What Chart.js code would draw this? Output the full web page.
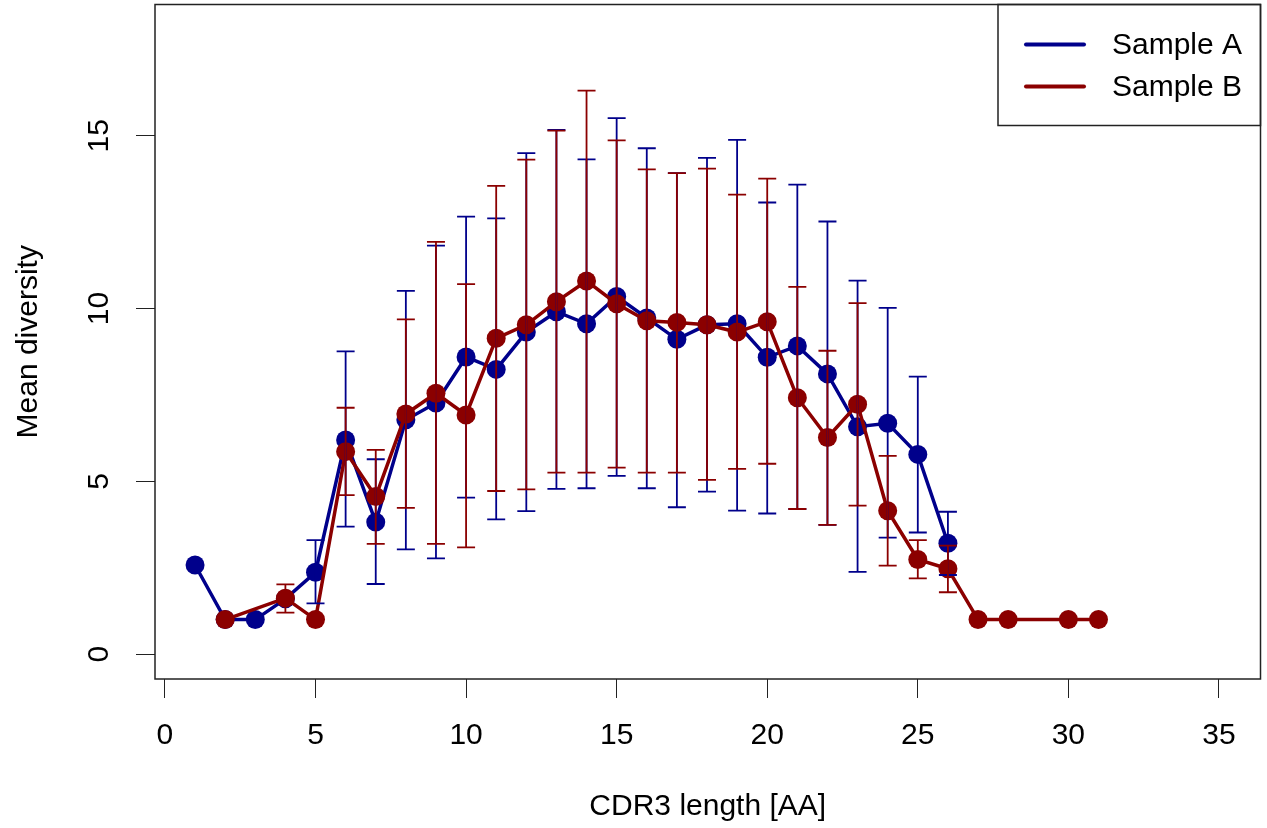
<!DOCTYPE html>
<html>
<head>
<meta charset="utf-8">
<script src="https://cdn.jsdelivr.net/npm/chart.js@4.4.1/dist/chart.umd.min.js"></script>
<style>
  html, body { margin: 0; padding: 0; background: #fff; }
  #page { width: 1267px; height: 828px; position: relative; overflow: hidden; }
  /* Chart.js reserves room for the point radius at the top/right edge;
     shift the canvas so the plot box sits where R put it */
  #wrap { width: 1270px; height: 833px; position: absolute; left: 0; top: -5px; }
</style>
</head>
<body>
<div id="page"><div id="wrap"><canvas id="diversityChart"></canvas></div></div>
<script>
// CDR3 length (AA) per sample
const lengthsA = [1, 2, 3, 4, 5, 6, 7, 8, 9, 10, 11, 12, 13, 14, 15, 16, 17, 18, 19, 20, 21, 22, 23, 24, 25, 26];
const meanA = [2.58, 1.0, 1.0, 1.6, 2.37, 6.2, 3.82, 6.78, 7.27, 8.6, 8.24, 9.32, 9.91, 9.56, 10.35, 9.73, 9.11, 9.53, 9.56, 8.59, 8.92, 8.11, 6.58, 6.68, 5.78, 3.21];
const lowA = [null, null, null, null, 1.47, 3.69, 2.03, 3.03, 2.77, 4.53, 3.9, 4.14, 4.78, 4.8, 5.16, 4.8, 4.25, 4.7, 4.15, 4.07, 4.2, 3.74, 2.38, 3.37, 3.52, 2.29];
const highA = [null, null, null, null, 3.3, 8.76, 5.64, 10.51, 11.82, 12.66, 12.61, 14.5, 15.17, 14.32, 15.51, 14.64, 13.92, 14.36, 14.88, 13.07, 13.59, 12.52, 10.81, 10.02, 8.03, 4.12];

const lengthsB = [2, 4, 5, 6, 7, 8, 9, 10, 11, 12, 13, 14, 15, 16, 17, 18, 19, 20, 21, 22, 23, 24, 25, 26, 27, 28, 30, 31];
const meanB = [1.0, 1.62, 1.0, 5.86, 4.56, 6.95, 7.55, 6.92, 9.14, 9.53, 10.2, 10.8, 10.14, 9.65, 9.6, 9.53, 9.32, 9.62, 7.42, 6.27, 7.23, 4.15, 2.74, 2.47, 1.0, 1.0, 1.0, 1.0];
const lowB = [null, 1.2, null, 4.6, 3.19, 4.23, 3.19, 3.09, 4.72, 4.77, 5.25, 5.25, 5.4, 5.25, 5.25, 5.04, 5.36, 5.51, 4.2, 3.74, 4.3, 2.56, 2.19, 1.79, null, null, null, null];
const highB = [null, 2.02, null, 7.13, 5.91, 9.69, 11.93, 10.71, 13.55, 14.31, 15.15, 16.31, 14.87, 14.03, 13.92, 14.05, 13.3, 13.76, 10.63, 8.78, 10.16, 5.74, 3.3, 3.14, null, null, null, null];

const seriesNames = ["Sample A", "Sample B"];
const seriesColors = ["#00008B", "#8B0000"];
const xTicks = [0, 5, 10, 15, 20, 25, 30, 35];
const yTicks = [0, 5, 10, 15];

const FONT = "'Liberation Sans', Arial, Helvetica, sans-serif";

function toPoints(xs, ys) {
  return xs.map((x, i) => ({ x: x, y: ys[i] }));
}

// R-like error bars, drawn on top of the lines
const errorBarPlugin = {
  id: "errorBars",
  afterDatasetsDraw(chart) {
    const ctx = chart.ctx;
    const xs = chart.scales.x;
    const ys = chart.scales.y;
    const sets = [
      { xv: lengthsA, lo: lowA, hi: highA, color: seriesColors[0] },
      { xv: lengthsB, lo: lowB, hi: highB, color: seriesColors[1] }
    ];
    ctx.save();
    sets.forEach(s => {
      ctx.strokeStyle = s.color;
      ctx.lineWidth = 1.8;
      s.xv.forEach((x, i) => {
        if (s.lo[i] == null || s.hi[i] == null) return;
        const px = xs.getPixelForValue(x);
        const y1 = ys.getPixelForValue(s.lo[i]);
        const y2 = ys.getPixelForValue(s.hi[i]);
        ctx.beginPath();
        ctx.moveTo(px, y1); ctx.lineTo(px, y2);
        ctx.moveTo(px - 9, y1); ctx.lineTo(px + 9, y1);
        ctx.moveTo(px - 9, y2); ctx.lineTo(px + 9, y2);
        ctx.stroke();
      });
    });
    ctx.restore();
  }
};

// plot box, rotated y tick labels and the boxed legend
const framePlugin = {
  id: "frame",
  afterDraw(chart) {
    const ctx = chart.ctx;
    const area = chart.chartArea;
    const ys = chart.scales.y;
    ctx.save();
    ctx.strokeStyle = "#222";
    ctx.lineWidth = 1.5;
    ctx.strokeRect(area.left, area.top, area.right - area.left, area.bottom - area.top);

    ctx.fillStyle = "#000";
    ctx.font = "30px " + FONT;
    ctx.textAlign = "center";
    ctx.textBaseline = "middle";
    yTicks.forEach(v => {
      ctx.save();
      ctx.translate(100, ys.getPixelForValue(v));
      ctx.rotate(-Math.PI / 2);
      ctx.fillText(String(v), 0, 0);
      ctx.restore();
    });

    // legend
    const lx = 998, ly = area.top, lw = area.right - 998, lh = 121;
    ctx.strokeStyle = "#222";
    ctx.lineWidth = 1.5;
    ctx.strokeRect(lx, ly, lw, lh);
    ctx.textAlign = "left";
    chart.data.datasets.forEach((ds, i) => {
      const yy = ly + 40 + i * 42;
      ctx.strokeStyle = ds.borderColor;
      ctx.lineWidth = 4;
      ctx.lineCap = "round";
      ctx.beginPath();
      ctx.moveTo(1026, yy); ctx.lineTo(1084, yy);
      ctx.stroke();
      ctx.fillStyle = "#000";
      ctx.fillText(ds.label, 1112, yy + 1);
    });
    ctx.restore();
  }
};

function buildChart() {
  const canvas = document.getElementById("diversityChart");
  const ctx = canvas.getContext("2d");

  new Chart(ctx, {
    type: "line",
    data: {
      datasets: [
        {
          label: seriesNames[0],
          data: toPoints(lengthsA, meanA),
          borderColor: seriesColors[0],
          backgroundColor: seriesColors[0],
          borderWidth: 3.5,
          pointRadius: 9.5,
          pointHoverRadius: 9.5,
          pointBorderWidth: 0,
          tension: 0,
          order: 1
        },
        {
          label: seriesNames[1],
          data: toPoints(lengthsB, meanB),
          borderColor: seriesColors[1],
          backgroundColor: seriesColors[1],
          borderWidth: 3.5,
          pointRadius: 9.5,
          pointHoverRadius: 9.5,
          pointBorderWidth: 0,
          tension: 0,
          order: 0
        }
      ]
    },
    options: {
      responsive: true,
      maintainAspectRatio: false,
      animation: false,
      layout: { padding: 0 },
      plugins: {
        legend: { display: false },
        tooltip: { enabled: false }
      },
      scales: {
        x: {
          type: "linear",
          min: -0.33,
          max: 36.38,
          afterFit: scale => { scale.height = 149; },
          afterBuildTicks: scale => { scale.ticks = xTicks.map(v => ({ value: v })); },
          border: { display: false },
          grid: { drawOnChartArea: false, drawTicks: true, tickLength: 19, color: "#222", lineWidth: 1 },
          ticks: { color: "#000", font: { family: FONT, size: 30 }, padding: 20, maxRotation: 0 },
          title: { display: true, text: "CDR3 length [AA]", color: "#000", font: { family: FONT, size: 30 }, padding: { top: 0, bottom: 3 } }
        },
        y: {
          type: "linear",
          min: -0.72,
          max: 18.8,
          afterFit: scale => { scale.width = 155; },
          afterBuildTicks: scale => { scale.ticks = yTicks.map(v => ({ value: v })); },
          border: { display: false },
          grid: { drawOnChartArea: false, drawTicks: true, tickLength: 19, color: "#222", lineWidth: 1 },
          ticks: { display: false },
          title: { display: true, text: "Mean diversity", color: "#000", font: { family: FONT, size: 30 }, padding: { top: 11, bottom: 0 } }
        }
      }
    },
    plugins: [errorBarPlugin, framePlugin]
  });
}

document.addEventListener("DOMContentLoaded", buildChart);
</script>
</body>
</html>
